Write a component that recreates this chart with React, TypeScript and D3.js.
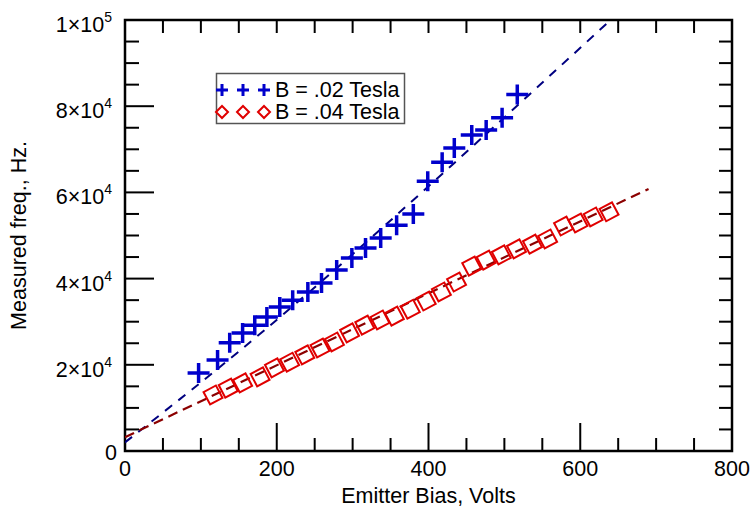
import React, { useEffect, useRef } from "react";
import * as d3 from "d3";

// B = .02 Tesla (blue crosses)
const blueVolts = [97, 122, 138, 155, 171, 187, 204, 221, 241, 259, 279, 299, 317, 337, 358, 380, 399, 418, 434, 457, 476, 497, 517];
const blueFreq = [18100, 21100, 25100, 27400, 29200, 31100, 33400, 35000, 36900, 39000, 42000, 44800, 47100, 49400, 52400, 55000, 62600, 67000, 70300, 73300, 74500, 77300, 82700];

// B = .04 Tesla (red diamonds)
const redVolts = [116, 136, 155, 178, 197, 217, 237, 257, 276, 296, 316, 336, 355, 376, 397, 417, 437, 457, 476, 496, 516, 537, 557, 578, 597, 617, 638];
const redFreq = [13000, 14600, 15800, 17200, 19300, 20600, 22300, 23900, 25300, 27400, 29200, 30400, 31300, 32900, 34800, 36900, 39200, 42900, 44300, 45500, 46900, 48000, 49200, 52200, 52900, 54300, 55500];

// dashed fit lines
const blueFitVolts = [0, 260, 640];
const blueFitFreq = [2000, 39500, 100000];
const redFitVolts = [0, 690];
const redFitFreq = [3200, 60800];

const xTicks = [0, 200, 400, 600, 800];
const yTickMantissa = ["0", "2", "4", "6", "8", "1"];
const yTickExp = ["", "4", "4", "4", "4", "5"];
const yTicks = [0, 20000, 40000, 60000, 80000, 100000];

const legendLabels = ["B = .02 Tesla", "B = .04 Tesla"];

const FONT = "'Liberation Sans', Arial, Helvetica, sans-serif";

const App = () => {
  const svgRef = useRef<SVGSVGElement>(null);

  useEffect(() => {
    const svg = d3.select(svgRef.current);
    const width = 750;
    const height = 510;
    const margin = { top: 20, right: 18, bottom: 59, left: 125 };
    svg.selectAll("*").remove();

    const x = d3.scaleLinear().domain([0, 800]).range([margin.left, width - margin.right]);
    const y = d3.scaleLinear().domain([0, 100000]).range([height - margin.bottom, margin.top]);
    const x0 = x(0), x1 = x(800), y0 = y(0), y1 = y(100000);

    svg.append("defs").append("clipPath").attr("id", "plot")
      .append("rect").attr("x", x0).attr("y", y1).attr("width", x1 - x0).attr("height", y0 - y1);

    // ticks, all four sides, pointing inward
    const g = svg.append("g").attr("stroke", "black").attr("stroke-width", 2);
    d3.range(0, 801, 50).forEach(v => {
      const len = v % 200 === 0 ? 28 : 13;
      g.append("line").attr("x1", x(v)).attr("x2", x(v)).attr("y1", y0).attr("y2", y0 - len);
      g.append("line").attr("x1", x(v)).attr("x2", x(v)).attr("y1", y1).attr("y2", y1 + 13);
    });
    d3.range(0, 100001, 5000).forEach(v => {
      const len = v % 20000 === 0 ? 29 : 14;
      g.append("line").attr("y1", y(v)).attr("y2", y(v)).attr("x1", x0).attr("x2", x0 + len);
      g.append("line").attr("y1", y(v)).attr("y2", y(v)).attr("x1", x1).attr("x2", x1 - 13);
    });

    svg.append("rect")
      .attr("x", x0).attr("y", y1).attr("width", x1 - x0).attr("height", y0 - y1)
      .attr("fill", "none").attr("stroke", "black").attr("stroke-width", 2.5);

    // tick labels
    svg.selectAll("text.xt").data(xTicks).join("text")
      .attr("class", "xt")
      .attr("x", d => x(d)).attr("y", y0 + 25)
      .attr("text-anchor", "middle").attr("font-family", FONT).attr("font-size", 21.5)
      .text(d => d);

    yTicks.forEach((v, i) => {
      const t = svg.append("text")
        .attr("x", x0 - 13).attr("y", y(v) + 12)
        .attr("text-anchor", "end").attr("font-family", FONT).attr("font-size", 21.5);
      if (yTickExp[i] === "") {
        t.attr("x", x0 - 8).attr("y", y(v) + 9).text(yTickMantissa[i]);
      } else {
        t.append("tspan").text(`${yTickMantissa[i]}×10`);
        t.append("tspan").attr("dy", -10).attr("font-size", 14).text(yTickExp[i]);
      }
    });

    // axis titles
    svg.append("text")
      .attr("x", (x0 + x1) / 2).attr("y", 503)
      .attr("text-anchor", "middle").attr("font-family", FONT).attr("font-size", 21.5)
      .text("Emitter Bias, Volts");
    svg.append("text")
      .attr("transform", `translate(26, ${(y0 + y1) / 2}) rotate(-90)`)
      .attr("text-anchor", "middle").attr("font-family", FONT).attr("font-size", 21.5)
      .text("Measured freq., Hz.");

    const plot = svg.append("g").attr("clip-path", "url(#plot)");

    // fit lines
    const line = d3.line<[number, number]>().x(d => x(d[0])).y(d => y(d[1])).curve(d3.curveNatural);
    plot.append("path")
      .attr("d", line(blueFitVolts.map((v, i) => [v, blueFitFreq[i]] as [number, number])))
      .attr("fill", "none").attr("stroke", "#000080").attr("stroke-width", 2)
      .attr("stroke-dasharray", "9 8");
    plot.append("path")
      .attr("d", line(redFitVolts.map((v, i) => [v, redFitFreq[i]] as [number, number])))
      .attr("fill", "none").attr("stroke", "#8b0000").attr("stroke-width", 2.2)
      .attr("stroke-dasharray", "10 6");

    // red diamonds
    plot.selectAll("rect.red").data(redVolts).join("rect")
      .attr("class", "red")
      .attr("x", -7).attr("y", -7).attr("width", 14).attr("height", 14)
      .attr("transform", (d, i) => `translate(${x(d)},${y(redFreq[i])}) rotate(-28)`)
      .attr("fill", "none").attr("stroke", "#e00000").attr("stroke-width", 2);

    // blue crosses
    plot.selectAll("path.blue").data(blueVolts).join("path")
      .attr("class", "blue")
      .attr("d", "M-11,0H11M0,-10V10")
      .attr("transform", (d, i) => `translate(${x(d)},${y(blueFreq[i])})`)
      .attr("stroke", "#0000cc").attr("stroke-width", 3.5);

    // legend
    const lg = svg.append("g");
    lg.append("rect").attr("x", 216.5).attr("y", 73.5).attr("width", 188).attr("height", 50)
      .attr("fill", "white").attr("stroke", "#555").attr("stroke-width", 1.5);
    [222, 243, 264].forEach(cx => {
      lg.append("path").attr("d", "M-6,0H6M0,-6V6")
        .attr("transform", `translate(${cx},90)`)
        .attr("stroke", "#0000cc").attr("stroke-width", 3);
      lg.append("path").attr("d", "M-6,0L0,-6L6,0L0,6Z")
        .attr("transform", `translate(${cx},112)`)
        .attr("fill", "none").attr("stroke", "#e00000").attr("stroke-width", 2);
    });
    legendLabels.forEach((label, i) => {
      lg.append("text")
        .attr("x", 275).attr("y", 97 + i * 22)
        .attr("font-family", FONT).attr("font-size", 21.5)
        .text(label);
    });
  }, []);

  return (
    <svg
      ref={svgRef}
      width={750}
      height={510}
      style={{ position: "absolute", left: 0, top: 0, background: "white" }}
    />
  );
};

export default App;
